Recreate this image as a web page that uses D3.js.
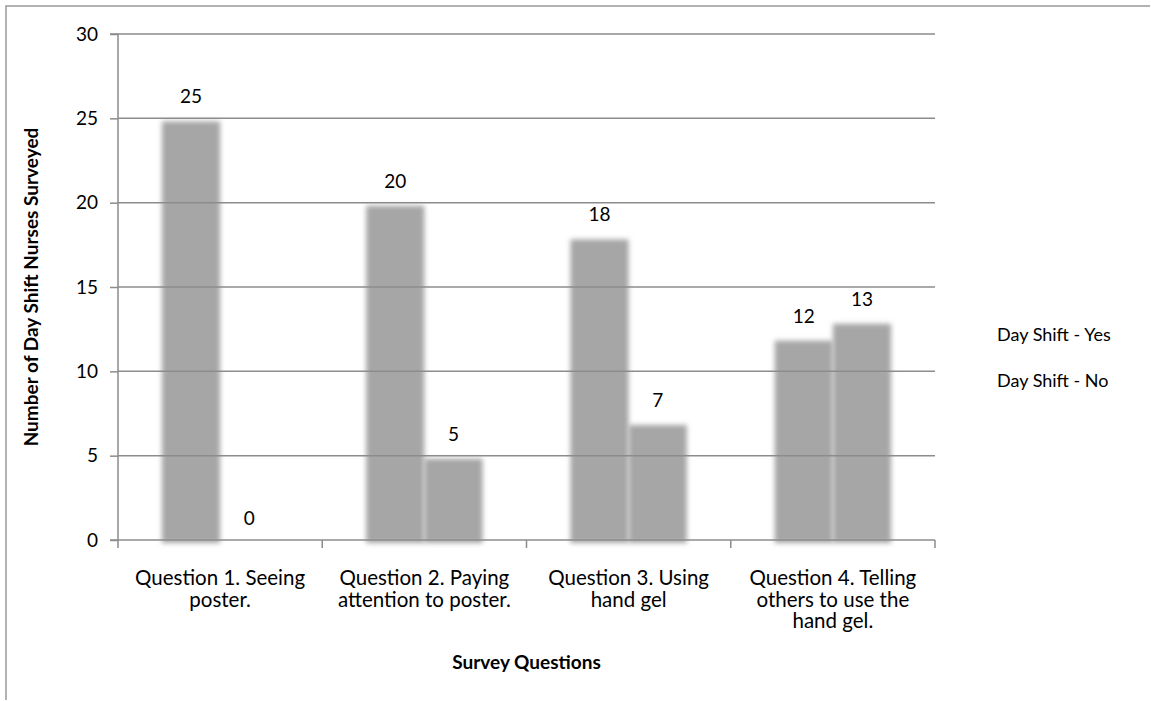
<!DOCTYPE html>
<html>
<head>
<meta charset="utf-8">
<script src="https://cdn.jsdelivr.net/npm/d3@7"></script>
<style>
  body { margin: 0; background: #fff; }
  svg text { font-family: Lato, "Open Sans", sans-serif; fill: #000; }
</style>
</head>
<body>
<svg id="chart" width="1151" height="701"></svg>
<script>
// data
const questions = ["Q1", "Q2", "Q3", "Q4"];
const questionLabels = [
  ["Question 1. Seeing", "poster."],
  ["Question 2. Paying", "attention to poster."],
  ["Question 3. Using", "hand gel"],
  ["Question 4. Telling", "others to use the", "hand gel."]
];
const seriesNames = ["Day Shift - Yes", "Day Shift - No"];
const yesValues = [25, 20, 18, 12];
const noValues = [0, 5, 7, 13];
const yTicks = [0, 5, 10, 15, 20, 25, 30];

const svg = d3.select('#chart');
const margin = { top: 34, left: 118, right: 216, bottom: 161 };
const width = +svg.attr('width');
const height = +svg.attr('height');
const innerWidth = width - margin.left - margin.right;
const innerHeight = height - margin.top - margin.bottom;

// outer frame (only top and left edges show)
svg.append('path')
  .attr('d', `M6,${height - 1} L6,6 L${width - 1},6`)
  .attr('fill', 'none')
  .attr('stroke', '#999')
  .attr('stroke-width', 1.5);

const defs = svg.append('defs');
defs.append('filter')
  .attr('id', 'soft')
  .attr('x', '-20%').attr('y', '-5%')
  .attr('width', '140%').attr('height', '110%')
  .append('feGaussianBlur')
  .attr('stdDeviation', 2.6);

const g = svg.append('g')
  .attr('transform', 'translate(' + margin.left + ',' + margin.top + ')');

const x0 = d3.scaleBand()
  .domain(questions)
  .range([0, innerWidth]);
const x1 = d3.scaleBand()
  .domain(seriesNames)
  .range([x0.bandwidth() * 0.215, x0.bandwidth() * 0.785]);
const yScale = d3.scaleLinear()
  .domain([0, 30])
  .range([innerHeight, 0]);

const rows = questions.map((q, i) => ({
  q: q,
  values: [
    { s: seriesNames[0], v: yesValues[i] },
    { s: seriesNames[1], v: noValues[i] }
  ]
}));

// bars (slightly dropped, like the soft shadowed bars of the source)
const groups = g.selectAll('.grp')
  .data(rows)
  .enter()
  .append('g')
  .attr('transform', d => 'translate(' + x0(d.q) + ',0)');

groups.append('g')
  .attr('transform', 'translate(0,3)')
  .selectAll('rect')
  .data(d => d.values)
  .enter()
  .append('rect')
  .attr('x', d => x1(d.s))
  .attr('width', x1.bandwidth())
  .attr('y', d => yScale(d.v))
  .attr('height', d => innerHeight - yScale(d.v))
  .attr('fill', '#a6a6a6')
  .attr('filter', 'url(#soft)');

// gridlines drawn over the bars
g.selectAll('.grid')
  .data(yTicks.filter(t => t > 0))
  .enter()
  .append('line')
  .attr('x1', 0)
  .attr('x2', innerWidth)
  .attr('y1', d => yScale(d))
  .attr('y2', d => yScale(d))
  .attr('stroke', '#8c8c8c')
  .attr('stroke-width', 1.5);

// value labels
groups.selectAll('.val')
  .data(d => d.values)
  .enter()
  .append('text')
  .attr('x', d => x1(d.s) + x1.bandwidth() / 2)
  .attr('y', d => yScale(d.v) - 15)
  .attr('text-anchor', 'middle')
  .style('font-size', '19px')
  .text(d => d.v);

// y axis
const yAxis = d3.axisLeft(yScale)
  .tickValues(yTicks)
  .tickSize(8)
  .tickPadding(12);
const gY = g.append('g').call(yAxis);
gY.select('.domain').attr('stroke', '#8c8c8c').attr('stroke-width', 1.5)
  .attr('d', `M-8,0H0V${innerHeight}H-8`);
gY.selectAll('.tick line').attr('stroke', '#8c8c8c').attr('stroke-width', 1.5);
gY.selectAll('.tick text')
  .style('font-size', '19px')
  .style('font-family', 'Lato, sans-serif')
  .attr('fill', '#000');

// x axis
const xAxis = d3.axisBottom(x0)
  .tickSize(0)
  .tickFormat('');
const gX = g.append('g')
  .attr('transform', `translate(0,${innerHeight})`)
  .call(xAxis);
gX.select('.domain').attr('stroke', '#8c8c8c').attr('stroke-width', 1.5)
  .attr('d', `M0,0H${innerWidth}`);
gX.selectAll('.edge')
  .data(questions.concat(['end']))
  .enter()
  .append('line')
  .attr('x1', (d, i) => i < questions.length ? x0(d) : innerWidth)
  .attr('x2', (d, i) => i < questions.length ? x0(d) : innerWidth)
  .attr('y1', 0)
  .attr('y2', 8)
  .attr('stroke', '#8c8c8c')
  .attr('stroke-width', 1.5);

// category labels
questions.forEach((q, i) => {
  const t = g.append('text')
    .attr('x', x0(q) + x0.bandwidth() / 2)
    .attr('y', innerHeight + 45)
    .attr('text-anchor', 'middle')
    .style('font-size', '20.5px');
  questionLabels[i].forEach((line, j) => {
    t.append('tspan')
      .attr('x', x0(q) + x0.bandwidth() / 2)
      .attr('dy', j === 0 ? 0 : 21.5)
      .text(line);
  });
});

// axis titles
g.append('text')
  .attr('x', innerWidth / 2)
  .attr('y', innerHeight + 129)
  .attr('text-anchor', 'middle')
  .style('font-size', '19px')
  .style('font-weight', 'bold')
  .text('Survey Questions');

g.append('text')
  .attr('transform', `translate(${38 - margin.left},${innerHeight / 2}) rotate(-90)`)
  .attr('text-anchor', 'middle')
  .style('font-size', '19px')
  .style('font-weight', 'bold')
  .text('Number of Day Shift Nurses Surveyed');

// legend (no swatches visible in the source)
const legend = svg.append('g')
  .attr('transform', 'translate(997,0)');
legend.selectAll('text')
  .data(seriesNames)
  .enter()
  .append('text')
  .attr('x', 0)
  .attr('y', (d, i) => 341 + i * 46)
  .style('font-size', '18px')
  .text(d => d);
</script>
</body>
</html>
